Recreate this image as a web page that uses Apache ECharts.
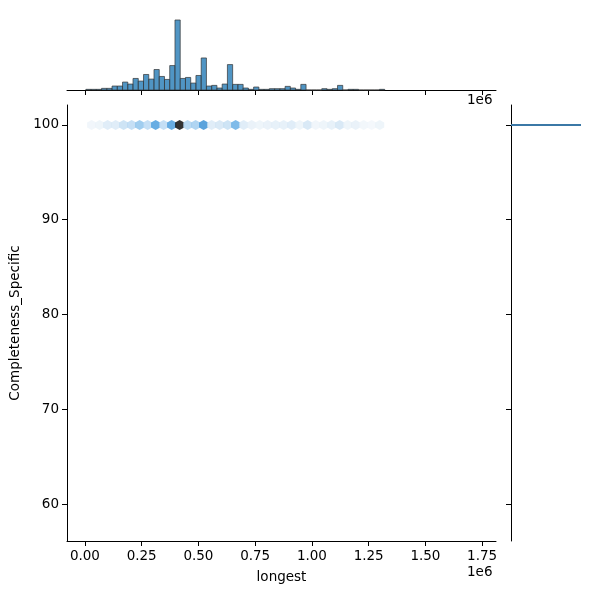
<!DOCTYPE html><html><head><meta charset="utf-8"><script src="https://cdn.jsdelivr.net/npm/echarts@6/dist/echarts.min.js"></script></head><body style="margin:0"><div id="c" style="width:600px;height:600px"></div><script>
const binStart = 0.004, binWidth = 0.0231;
const histCounts = [2,2,2,5,5,12,12,24,18,35,27,47,33,62,41,32,74,212,35,38,21,44,97,12,14,6,18,77,17,17,6,2,9,2,2,4,4,4,11,6,2,17,0,0,0,4,2,4,14,0,2,2,0,0,0,0,2];
const hexZoom = [95,119,143,167,191,215,239,263,287,311,335,359,383,407,431,455,479,503,527,551,575,599,623,647,671,695,719,743,767,791,815,839,863,887,911,935,959];
const hexX = hexZoom.map(z => +(((60 + z/3) - 85) / 226.9).toFixed(4));
const hexDensity = [0.03,0.05,0.15,0.15,0.25,0.3,0.45,0.3,0.65,0.3,0.65,1.0,0.35,0.4,0.75,0.15,0.2,0.25,0.55,0.15,0.08,0.05,0.08,0.1,0.1,0.15,0.05,0.2,0.03,0.05,0.1,0.2,0.05,0.08,0.02,0.01,0.05];
const xTicks = [0,0.25,0.5,0.75,1.0,1.25,1.5,1.75];
const yTicks = [60,70,80,90,100];
const xMin=-0.079, xMax=1.811, yMin=56.1, yMax=102.1;
const histData = histCounts.map((c,i)=>[binStart+i*binWidth, binStart+(i+1)*binWidth, c]);
const hexPath='path://M0,-1L0.866,-0.5L0.866,0.5L0,1L-0.866,0.5L-0.866,-0.5Z';
const ax = {onZero:false,lineStyle:{color:'#000'}};
const F = {color:'#000',fontSize:13.5,fontFamily:'DejaVu Sans'};
const ch = echarts.init(document.getElementById('c'));
ch.setOption({
 animation:false,
 grid:[{left:67,right:104,top:105,bottom:59},{left:67,right:104,top:19,bottom:510},{left:511,right:19,top:105,bottom:59}],
 xAxis:[
  {gridIndex:0,type:'value',min:xMin,max:xMax,splitLine:{show:false},axisLine:ax,axisTick:{length:5,lineStyle:{color:'#000'},customValues:xTicks},
   axisLabel:Object.assign({formatter:v=>v.toFixed(2),customValues:xTicks},F),
   name:'longest',nameLocation:'middle',nameGap:29,nameTextStyle:F},
  {gridIndex:1,type:'value',min:xMin,max:xMax,splitLine:{show:false},axisLine:ax,axisTick:{length:5,lineStyle:{color:'#000'},customValues:xTicks},axisLabel:{show:false}},
  {gridIndex:2,type:'value',min:0,max:1,show:false}
 ],
 yAxis:[
  {gridIndex:0,type:'value',min:yMin,max:yMax,splitLine:{show:false},axisLine:Object.assign({show:true},ax),axisTick:{show:true,length:5,lineStyle:{color:'#000'},customValues:yTicks},
   axisLabel:Object.assign({customValues:yTicks},F),
   name:'Completeness_Specific',nameLocation:'middle',nameGap:40,nameTextStyle:F},
  {gridIndex:1,type:'value',min:0,max:215,show:false},
  {gridIndex:2,type:'value',min:yMin,max:yMax,splitLine:{show:false},axisLine:Object.assign({show:true},ax),axisTick:{show:true,length:5,lineStyle:{color:'#000'},customValues:yTicks},axisLabel:{show:false}}
 ],
 visualMap:{show:false,seriesIndex:0,dimension:2,min:0,max:1,inRange:{color:['#f3f7fb','#cfe3f4','#9ccbef','#4a9fe0','#2a86cf','#000000']}},
 graphic:[
  {type:'text',left:467,top:93,style:{text:'1e6',fontSize:13.5,fontFamily:'DejaVu Sans',fill:'#000'}},
  {type:'text',left:467,top:565,style:{text:'1e6',fontSize:13.5,fontFamily:'DejaVu Sans',fill:'#000'}}
 ],
 series:[
  {type:'scatter',xAxisIndex:0,yAxisIndex:0,symbol:hexPath,symbolSize:[9,10],data:hexX.map((x,i)=>[x,100,hexDensity[i]])},
  {type:'custom',xAxisIndex:1,yAxisIndex:1,data:histData,renderItem:(p,api)=>{
    const a=api.coord([api.value(0),0]), b=api.coord([api.value(1),api.value(2)]);
    return {type:'rect',shape:{x:a[0],y:b[1],width:b[0]-a[0],height:a[1]-b[1]},style:{fill:'rgba(31,119,180,0.78)',stroke:'#333',lineWidth:0.7}};
  }},
  {type:'line',xAxisIndex:2,yAxisIndex:2,symbol:'none',data:[[0,100],[1,100]],lineStyle:{color:'#3b78a6',width:2}}
 ]
});
</script></body></html>
